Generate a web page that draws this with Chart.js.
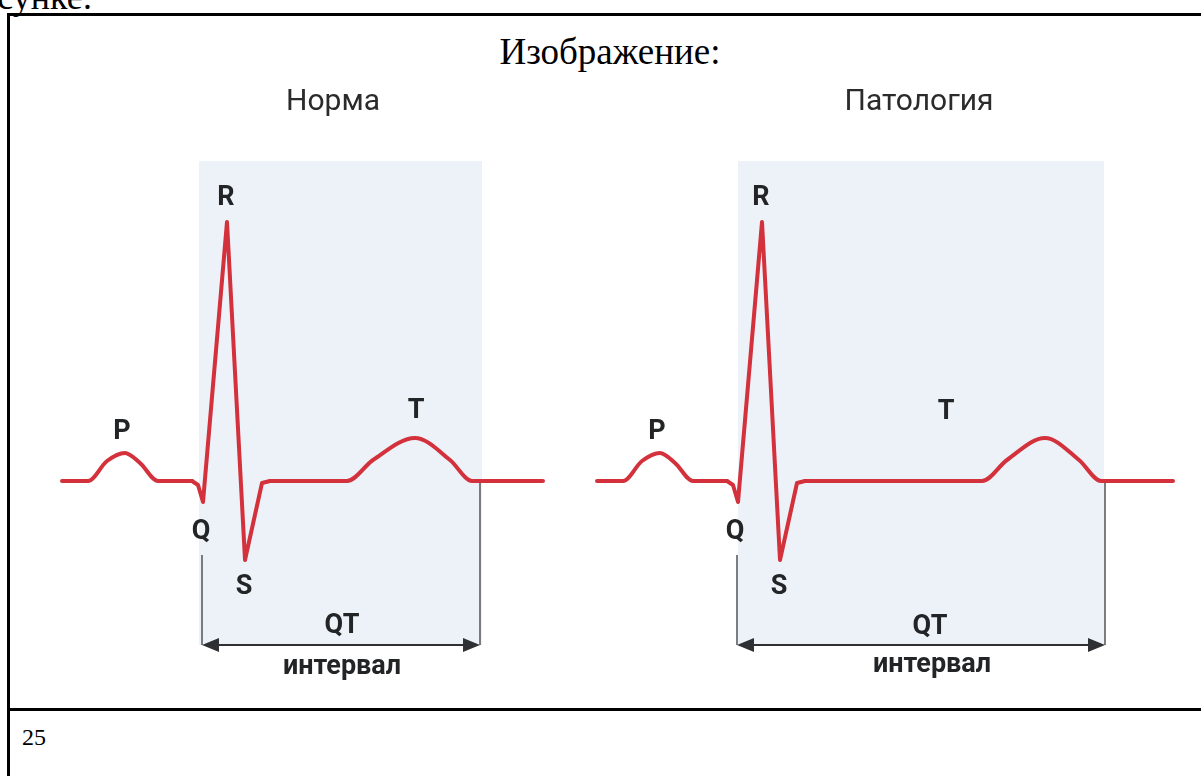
<!DOCTYPE html>
<html>
<head>
<meta charset="utf-8">
<script src="https://cdn.jsdelivr.net/npm/chart.js@4/dist/chart.umd.min.js"></script>
<style>
  html, body { margin: 0; padding: 0; background: #fff; }
  body { width: 1201px; height: 776px; position: relative; overflow: hidden; }
  .serif { position: absolute; font-family: "Liberation Serif", "Times New Roman", serif; line-height: 1; color: #000; white-space: nowrap; }
  .rule { position: absolute; background: #000; }
  canvas { position: absolute; }
</style>
</head>
<body>
<div class="serif" style="left:-40px; top:-21px; font-size:36px;">рисунке:</div>
<div class="rule" style="left:7px; top:13px; width:1194px; height:3px;"></div>
<div class="rule" style="left:7px; top:13px; width:3px; height:763px;"></div>
<div class="rule" style="left:7px; top:708px; width:1194px; height:3px;"></div>
<div class="serif" style="left:0; width:1220px; text-align:center; top:33px; font-size:37px;">Изображение:</div>
<div class="serif" style="left:22px; top:725px; font-size:24px;">25</div>

<canvas id="normChart" width="535" height="630" style="left:30px; top:80px;"></canvas>
<canvas id="pathChart" width="630" height="630" style="left:565px; top:80px;"></canvas>

<script>
// time in ms, amplitude in mV

// Норма
let normP_t   = [0, 52, 90, 126, 156, 192, 260];
let normP_mv  = [0, 0, 0.10, 0.14, 0.09, 0, 0];
let normQRS_t  = [260, 272, 282, 330, 366, 400, 416];
let normQRS_mv = [0, -0.02, -0.105, 1.295, -0.395, -0.01, 0];
let normT_t   = [416, 570, 622, 706, 776, 820, 962];
let normT_mv  = [0, 0, 0.105, 0.215, 0.105, 0, 0];
let normQT    = [280, 836];

// Патология
let pathP_t   = [0, 52, 90, 126, 156, 192, 260];
let pathP_mv  = [0, 0, 0.10, 0.14, 0.09, 0, 0];
let pathQRS_t  = [260, 272, 282, 330, 366, 400, 416];
let pathQRS_mv = [0, -0.02, -0.105, 1.295, -0.395, -0.01, 0];
let pathT_t   = [416, 770, 820, 896, 964, 1008, 1152];
let pathT_mv  = [0, 0, 0.105, 0.215, 0.105, 0, 0];
let pathQT    = [280, 1016];

const ECG_RED = '#d3313b';

function toPoints(ts, vs) {
    return ts.map((t, i) => ({x: t, y: vs[i]}));
}

// shaded QT box, bracket, wave labels
const ecgDecor = {
    id: 'ecgDecor',
    beforeDatasetsDraw(chart, args, opts) {
        const {ctx, scales: {x, y}} = chart;
        ctx.save();
        ctx.fillStyle = '#edf2f9';
        let x0 = x.getPixelForValue(opts.box[0]), x1 = x.getPixelForValue(opts.box[1]);
        let y0 = y.getPixelForValue(opts.box[2]), y1 = y.getPixelForValue(opts.box[3]);
        ctx.fillRect(x0, y0, x1 - x0, y1 - y0);
        ctx.restore();
    },
    afterDatasetsDraw(chart, args, opts) {
        const {ctx, scales: {x, y}} = chart;
        ctx.save();
        let qa = x.getPixelForValue(opts.qt[0]);
        let qb = x.getPixelForValue(opts.qt[1]);
        let ay = y.getPixelForValue(opts.arrowMv);

        // vertical markers
        ctx.strokeStyle = '#5b5e63';
        ctx.lineWidth = 1.6;
        ctx.beginPath();
        ctx.moveTo(qa, y.getPixelForValue(opts.qStartMv));
        ctx.lineTo(qa, ay);
        ctx.moveTo(qb, y.getPixelForValue(opts.qEndMv));
        ctx.lineTo(qb, ay);
        ctx.stroke();

        // double arrow
        ctx.strokeStyle = '#2e3033';
        ctx.fillStyle = '#2e3033';
        ctx.lineWidth = 2.2;
        ctx.beginPath();
        ctx.moveTo(qa + 10, ay);
        ctx.lineTo(qb - 10, ay);
        ctx.stroke();
        ctx.beginPath();
        ctx.moveTo(qa, ay);
        ctx.lineTo(qa + 17, ay - 7);
        ctx.lineTo(qa + 17, ay + 7);
        ctx.closePath();
        ctx.moveTo(qb, ay);
        ctx.lineTo(qb - 17, ay - 7);
        ctx.lineTo(qb - 17, ay + 7);
        ctx.closePath();
        ctx.fill();

        // labels
        ctx.textAlign = 'center';
        ctx.textBaseline = 'middle';
        opts.labels.forEach(l => {
            ctx.font = l.bold ? 'bold 27px Roboto' : '30px Roboto';
            ctx.fillStyle = l.bold ? '#222426' : '#2b2b2b';
            ctx.fillText(l.text, x.getPixelForValue(l.t), y.getPixelForValue(l.mv));
        });
        ctx.restore();
    }
};

function makeChart(id, xMax, p, qrs, t, decor) {
    let line = {
        borderColor: ECG_RED,
        borderWidth: 4,
        pointRadius: 0,
        borderCapStyle: 'round',
        borderJoinStyle: 'round',
        fill: false
    };
    return new Chart(document.getElementById(id), {
        type: 'line',
        data: {
            datasets: [
                Object.assign({label: 'P', data: p, cubicInterpolationMode: 'monotone'}, line),
                Object.assign({label: 'QRS', data: qrs, tension: 0}, line),
                Object.assign({label: 'T', data: t, cubicInterpolationMode: 'monotone'}, line)
            ]
        },
        options: {
            responsive: false,
            animation: false,
            devicePixelRatio: 1,
            layout: {padding: 0},
            scales: {
                x: {type: 'linear', display: false, min: -64, max: xMax},
                y: {type: 'linear', display: false, min: -1.145, max: 2.005}
            },
            plugins: {
                legend: {display: false},
                tooltip: {enabled: false},
                ecgDecor: decor
            }
        },
        plugins: [ecgDecor]
    });
}

makeChart('normChart', 1006,
    toPoints(normP_t, normP_mv), toPoints(normQRS_t, normQRS_mv), toPoints(normT_t, normT_mv),
    {
        box: [274, 840, 1.6, -0.82],
        qt: normQT, qStartMv: -0.37, qEndMv: -0.01, arrowMv: -0.82,
        labels: [
            {text: 'Норма', t: 542, mv: 1.895},
            {text: 'R', t: 328, mv: 1.415, bold: true},
            {text: 'P', t: 120, mv: 0.245, bold: true},
            {text: 'Q', t: 278, mv: -0.255, bold: true},
            {text: 'S', t: 364, mv: -0.53, bold: true},
            {text: 'T', t: 708, mv: 0.35, bold: true},
            {text: 'QT', t: 560, mv: -0.725, bold: true},
            {text: 'интервал', t: 560, mv: -0.93, bold: true}
        ]
    });

makeChart('pathChart', 1196,
    toPoints(pathP_t, pathP_mv), toPoints(pathQRS_t, pathQRS_mv), toPoints(pathT_t, pathT_mv),
    {
        box: [282, 1014, 1.6, -0.82],
        qt: pathQT, qStartMv: -0.37, qEndMv: -0.01, arrowMv: -0.82,
        labels: [
            {text: 'Патология', t: 644, mv: 1.895},
            {text: 'R', t: 328, mv: 1.415, bold: true},
            {text: 'P', t: 120, mv: 0.245, bold: true},
            {text: 'Q', t: 276, mv: -0.255, bold: true},
            {text: 'S', t: 364, mv: -0.53, bold: true},
            {text: 'T', t: 698, mv: 0.345, bold: true},
            {text: 'QT', t: 666, mv: -0.73, bold: true},
            {text: 'интервал', t: 670, mv: -0.92, bold: true}
        ]
    });
</script>
</body>
</html>
